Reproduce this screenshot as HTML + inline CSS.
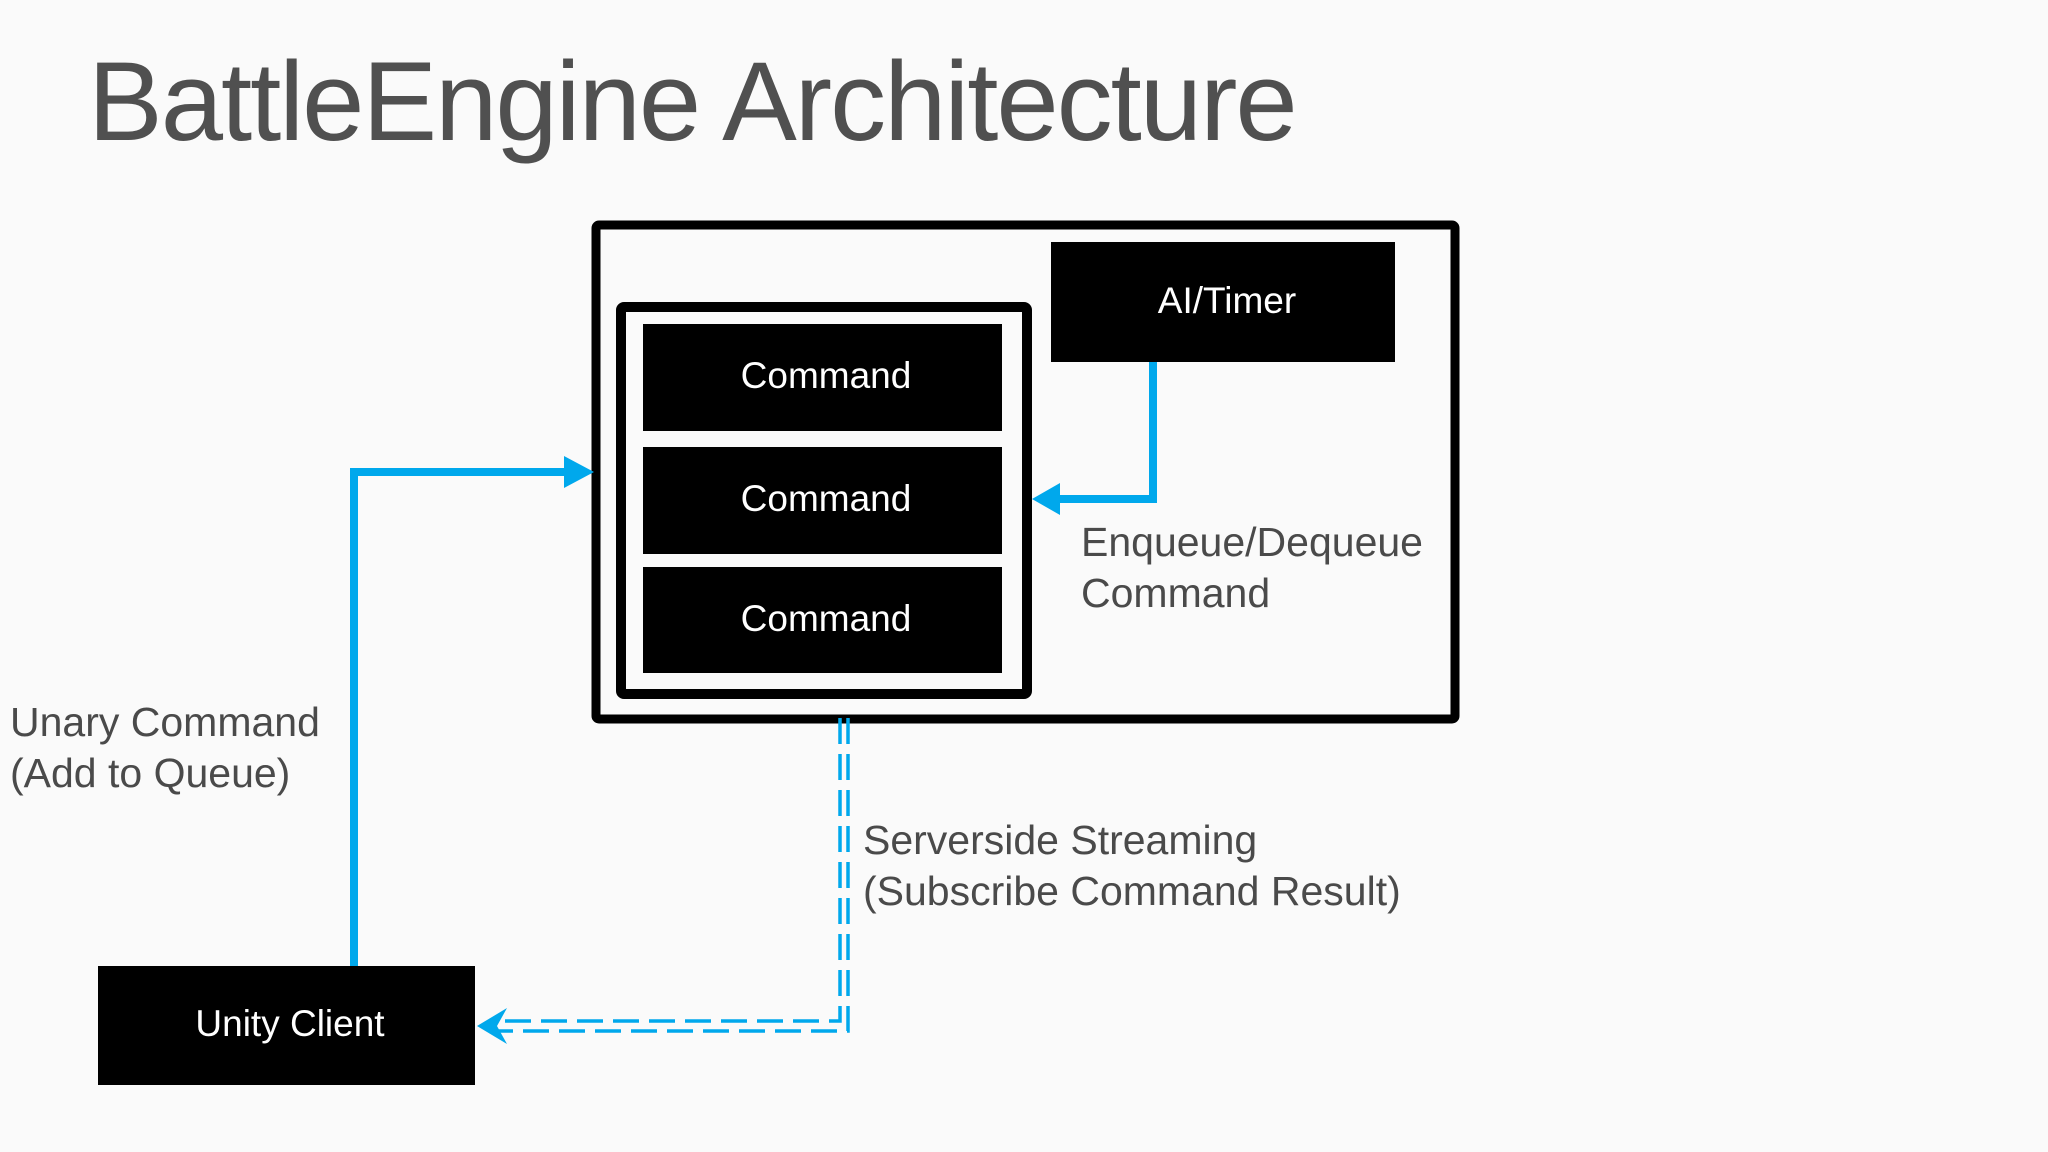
<!DOCTYPE html>
<html><head><meta charset="utf-8"><style>
body{margin:0;width:2048px;height:1152px;background:#fafafa;overflow:hidden;font-family:"Liberation Sans",sans-serif;}
</style></head><body>
<svg width="2048" height="1152" viewBox="0 0 2048 1152" xmlns="http://www.w3.org/2000/svg" style="position:absolute;left:0;top:0">
<text x="88" y="140" font-size="112" fill="#505050" font-family="Liberation Sans, sans-serif" letter-spacing="-2">BattleEngine Architecture</text>
<rect x="596" y="225" width="859" height="494" fill="none" stroke="#000" stroke-width="9" rx="3"/>
<rect x="621" y="307" width="406" height="387" fill="none" stroke="#000" stroke-width="10" rx="3"/>
<rect x="643" y="324" width="359" height="107" fill="#000"/>
<rect x="643" y="447" width="359" height="107" fill="#000"/>
<rect x="643" y="567" width="359" height="106" fill="#000"/>
<rect x="1051" y="242" width="344" height="120" fill="#000"/>
<rect x="98" y="966" width="377" height="119" fill="#000"/>
<g fill="#fff" font-size="37" text-anchor="middle" font-family="Liberation Sans, sans-serif">
<text x="826" y="388">Command</text>
<text x="826" y="511">Command</text>
<text x="826" y="631">Command</text>
<text x="1227" y="313">AI/Timer</text>
<text x="290" y="1036">Unity Client</text>
</g>
<g fill="#4a4a4a" font-size="41" font-family="Liberation Sans, sans-serif">
<text x="1081" y="556">Enqueue/Dequeue</text>
<text x="1081" y="607">Command</text>
<text x="10" y="736">Unary Command</text>
<text x="10" y="787">(Add to Queue)</text>
<text x="863" y="854">Serverside Streaming</text>
<text x="863" y="905">(Subscribe Command Result)</text>
</g>
<g stroke="#00a8ec" fill="none">
<polyline points="1153,362 1153,499 1050,499" stroke-width="8"/>
<polyline points="354,966 354,472 570,472" stroke-width="8"/>
<g stroke-width="3.5" stroke-dasharray="26,10">
<polyline points="840,718 840,1021 490,1021"/>
<polyline points="848,718 848,1031 490,1031"/>
</g>
</g>
<g fill="#00a8ec">
<polygon points="1032,499 1060,483 1060,515"/>
<polygon points="594,472 564,456 564,488"/>
<polygon points="477,1026 507,1008 497,1026 507,1044"/>
</g>
</svg>
</body></html>
